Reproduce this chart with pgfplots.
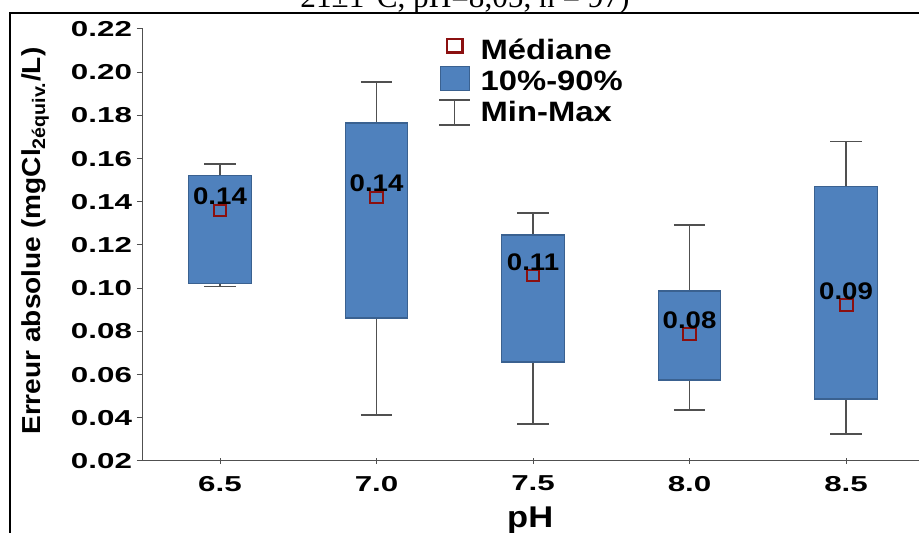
\documentclass[border=0pt]{standalone}
\usepackage{pgfplots}
\pgfplotsset{compat=1.18}
\usepgfplotslibrary{statistics}
\usepackage{fontspec}
\setmainfont{Liberation Sans}
\newfontfamily\seriffont{Liberation Serif}
\definecolor{boxblue}{HTML}{4F81BD}
\definecolor{boxedge}{HTML}{3A6190}
\definecolor{medred}{HTML}{8B1010}
\definecolor{wgray}{HTML}{505050}
\newcommand\W[2]{\scalebox{#1}[1]{#2}}
\pgfplotsset{
  bp/.style n args={6}{boxplot prepared={draw direction=y, draw position=#1, lower whisker=#2, lower quartile=#3, median=#4, upper quartile=#5, upper whisker=#6, box extend=0.2, whisker extend=0.1,
    every box/.style={fill=boxblue, draw=boxedge, line width=0.6pt},
    every whisker/.style={draw=wgray, line width=0.6pt},
    every median/.style={draw=none}}, forget plot}
}
\begin{document}
\begin{tikzpicture}
\useasboundingbox (-71.5pt,-36pt) rectangle (388pt,230.5pt);
\clip (-71.5pt,-36pt) rectangle (388pt,230.5pt);
\begin{axis}[
  at={(0,0)}, anchor=south west,
  scale only axis, width=388pt, height=216pt,
  xmin=6.254, xmax=8.733, ymin=0.02, ymax=0.22,
  axis lines*=left,
  axis line style={draw=wgray, line width=0.5pt},
  every tick/.style={draw=wgray, line width=0.5pt},
  major tick length=3pt,
  xtick align=center, ytick align=outside,
  xtick={6.5,7,7.5,8,8.5},
  xticklabels={\W{1.45}{6.5},\W{1.45}{7.0},\W{1.45}{7.5},\W{1.45}{8.0},\W{1.45}{8.5}},
  ytick={0.02,0.04,0.06,0.08,0.10,0.12,0.14,0.16,0.18,0.20,0.22},
  yticklabels={\W{1.45}{0.02},\W{1.45}{0.04},\W{1.45}{0.06},\W{1.45}{0.08},\W{1.45}{0.10},\W{1.45}{0.12},\W{1.45}{0.14},\W{1.45}{0.16},\W{1.45}{0.18},\W{1.45}{0.20},\W{1.45}{0.22}},
  yticklabel style={font=\bfseries\fontsize{10.8}{12}\selectfont, xshift=1pt},
  xticklabel style={font=\bfseries\fontsize{10.8}{12}\selectfont, yshift=-2.5pt},
  ylabel={\W{1.08}{Erreur absolue (mgCl\textsubscript{2équiv.}/L)}},
  ylabel style={font=\bfseries\fontsize{13}{15}\selectfont, at={(axis description cs:-0.139,0.509)}, anchor=center},
  xlabel={\W{1.15}{pH}},
  xlabel style={font=\bfseries\fontsize{15}{17}\selectfont, at={(axis description cs:0.499,0)}, anchor=base, yshift=-33.5pt},
  legend cell align=left,
  legend style={at={(axis cs:7.198,0.2187)}, anchor=north west, draw=none, fill=none, inner sep=0pt, outer sep=0pt, row sep=-3.5pt, column sep=5pt,
    nodes={inner sep=0pt, text height=11pt, text depth=5pt, font=\bfseries\fontsize{14}{16}\selectfont}},
]
\addplot[bp={6.5}{0.1006}{0.1020}{0.136}{0.1520}{0.1575}] coordinates {};
\addplot[bp={7.0}{0.0413}{0.0862}{0.142}{0.1765}{0.1955}] coordinates {};
\addplot[bp={7.5}{0.0371}{0.0658}{0.1057}{0.1246}{0.1348}] coordinates {};
\addplot[bp={8.0}{0.0436}{0.0575}{0.0788}{0.0987}{0.1293}] coordinates {};
\addplot[bp={8.5}{0.0325}{0.0487}{0.0922}{0.1469}{0.1680}] coordinates {};
\addplot[only marks, mark=square, mark size=2.8pt, mark options={draw=medred, line width=1pt, xscale=1.15},
  point meta=explicit symbolic, nodes near coords={\W{1.15}{\pgfplotspointmeta}},
  nodes near coords style={font=\bfseries\fontsize{12}{14}\selectfont, anchor=center, yshift=7pt, text=black},
  forget plot]
  coordinates {(6.5,0.136)[0.14] (7.0,0.142)[0.14] (7.5,0.1057)[0.11] (8.0,0.0788)[0.08] (8.5,0.0922)[0.09]};
\addlegendimage{legend image code/.code={\path[draw=none,fill=none] (-8pt,-5pt) rectangle (8pt,11pt); \draw[draw=medred, line width=1.3pt, fill=none] (-3.9pt,0.6pt) rectangle (3.9pt,7.4pt);}}
\addlegendentry{\W{1.17}{Médiane}}
\addlegendimage{legend image code/.code={\path[draw=none,fill=none] (-8pt,-5pt) rectangle (8pt,11pt); \draw[fill=boxblue, draw=boxedge, line width=0.6pt] (-7.25pt,-2.85pt) rectangle (7.25pt,9.15pt);}}
\addlegendentry{\W{1.17}{10\%-90\%}}
\addlegendimage{legend image code/.code={\path[draw=none,fill=none] (-8pt,-5pt) rectangle (8pt,11pt); \draw[draw=wgray, line width=0.6pt, fill=none] (-7.75pt,-4.6pt) -- (7.75pt,-4.6pt) (0pt,-4.6pt) -- (0pt,7.9pt) (-7.75pt,7.9pt) -- (7.75pt,7.9pt);}}
\addlegendentry{\W{1.17}{Min-Max}}
\end{axis}
\draw[line width=1pt] (-66.5pt,-60pt) |- (400pt,223.85pt);
\node[anchor=base, font=\seriffont\fontsize{15.6}{18}\selectfont, inner sep=0pt] at (161pt,226.5pt) {21±1°C, pH=8,05, n = 97)};
\end{tikzpicture}
\end{document}
